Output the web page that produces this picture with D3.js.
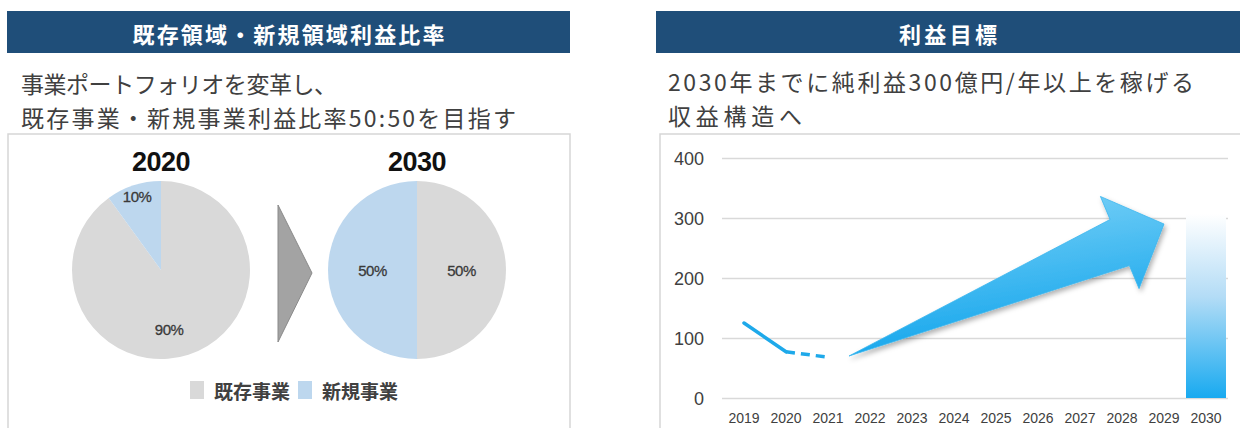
<!DOCTYPE html>
<html><head><meta charset="utf-8">
<script src="https://cdn.jsdelivr.net/npm/d3@7"></script>
<style>
html,body{margin:0;padding:0;background:#fff;}
svg{display:block;}
</style></head>
<body>
<svg id="chart" width="1240" height="428"></svg>
<script>
// ---------- data ----------
const leftTitle = "既存領域・新規領域利益比率";
const rightTitle = "利益目標";
const leftSubtitle = ["事業ポートフォリオを変革し、", "既存事業・新規事業利益比率50:50を目指す"];
const rightSubtitle = ["2030年までに純利益300億円/年以上を稼げる", "収益構造へ"];

const pieYears = ["2020", "2030"];
const pieCategories = ["既存事業", "新規事業"];
const pie2020 = [90, 10];
const pie2030 = [50, 50];

const years = ["2019","2020","2021","2022","2023","2024","2025","2026","2027","2028","2029","2030"];
const yTicks = [0, 100, 200, 300, 400];
const actualYears = ["2019", "2020"];
const actualProfit = [125, 77];
const forecastYears = ["2020", "2021"];
const forecastProfit = [77, 68];
const targetYear = "2030";
const targetProfit = 300;
const arrowFromYear = "2021", arrowFromValue = 70;   // tail sits half a step after 2021
const arrowToYear = "2029", arrowToValue = 290;

// ---------- setup ----------
const svg = d3.select("#chart");
const JP = "'Noto Sans CJK JP', 'Noto Sans', sans-serif";
const LAT = "'Liberation Sans', Arial, sans-serif";
const navy = "#1f4e79";
const txt = "#404040";
const grayC = "#d9d9d9", blueC = "#bdd7ee";
const skyC = "#1ea9ea";

const defs = svg.append("defs");
const gArrow = defs.append("linearGradient").attr("id","gArrow").attr("x1","0").attr("y1","0").attr("x2","0.3").attr("y2","1");
gArrow.append("stop").attr("offset","0%").attr("stop-color","#86d6f8");
gArrow.append("stop").attr("offset","100%").attr("stop-color","#12a5ec");
const gBar = defs.append("linearGradient").attr("id","gBar").attr("x1","0").attr("y1","0").attr("x2","0").attr("y2","1");
gBar.append("stop").attr("offset","0%").attr("stop-color","#ffffff");
gBar.append("stop").attr("offset","45%").attr("stop-color","#b3dcf6");
gBar.append("stop").attr("offset","100%").attr("stop-color","#18aaf0");
const sh = defs.append("filter").attr("id","shadow").attr("x","-20%").attr("y","-20%").attr("width","140%").attr("height","160%");
sh.append("feDropShadow").attr("dx",2).attr("dy",3).attr("stdDeviation",2.5).attr("flood-color","#000").attr("flood-opacity",0.3);

// ---------- headers ----------
function header(x0, x1, label, len) {
  svg.append("rect").attr("x", x0).attr("y", 11).attr("width", x1 - x0).attr("height", 42).attr("fill", navy);
  svg.append("text").attr("x", (x0 + x1) / 2).attr("y", 33).attr("text-anchor","middle")
    .attr("dominant-baseline","central").attr("fill","#fff").attr("font-family",JP)
    .attr("font-weight","bold").attr("font-size",22)
    .attr("textLength", len).attr("lengthAdjust","spacing").text(label);
}
header(7, 570, leftTitle, 312);
header(656, 1240, rightTitle, 98);

function subtitle(x, lines, ys, lens) {
  lines.forEach((l, i) => {
    svg.append("text").attr("x", x).attr("y", ys[i]).attr("dominant-baseline","central")
      .attr("fill", txt).attr("font-family", JP).attr("font-size", 23)
      .attr("textLength", lens[i]).attr("lengthAdjust","spacing").text(l);
  });
}
subtitle(21, leftSubtitle, [83, 117], [316, 495]);
subtitle(668, rightSubtitle, [81, 115], [526, 134]);

// ---------- panels ----------
svg.append("path").attr("d","M8,440 V134 H570 V440").attr("fill","none").attr("stroke","#d6d6d6").attr("stroke-width",1.5);
svg.append("path").attr("d","M660,440 V134 H1250").attr("fill","none").attr("stroke","#d6d6d6").attr("stroke-width",1.5);

// ---------- pies ----------
const R = 89;
const pieGen = d3.pie().sort(null).value(d => d);
const arc = d3.arc().innerRadius(0).outerRadius(R);
const colors = d3.scaleOrdinal().domain(pieCategories).range([grayC, blueC]);
const pieCenters = d3.scalePoint().domain(pieYears).range([161, 417]);
const labelR = { "2020": [0.68, 0.87], "2030": [0.5, 0.5] };
[pie2020, pie2030].forEach((data, pi) => {
  const yr = pieYears[pi];
  const g = svg.append("g").attr("transform", `translate(${pieCenters(yr)},270)`);
  const arcs = pieGen(data);
  g.selectAll("path").data(arcs).join("path").attr("d", arc).attr("fill", (d, i) => colors(pieCategories[i]));
  g.selectAll("text.pl").data(arcs).join("text").attr("class","pl")
    .attr("transform", (d, i) => {
      const r = R * labelR[yr][i];
      const a = (d.startAngle + d.endAngle) / 2 + (data[i] === 90 ? 0.18 : 0);
      return `translate(${Math.sin(a) * r},${-Math.cos(a) * r})`;
    })
    .attr("text-anchor","middle").attr("dominant-baseline","central")
    .attr("font-family", LAT).attr("font-size", 15).attr("fill", "#3a3a3a").attr("letter-spacing", -0.5)
    .attr("stroke", "#3a3a3a").attr("stroke-width", 0.3)
    .text(d => d.data + "%");
  svg.append("text").attr("x", pieCenters(yr)).attr("y", 162).attr("text-anchor","middle")
    .attr("dominant-baseline","central").attr("font-family", LAT).attr("font-weight","bold")
    .attr("font-size", 27).attr("fill","#111").attr("letter-spacing", -0.5).text(yr);
});
// transition triangle
svg.append("path").attr("d","M278,205 L312,273 L278,342 Z").attr("fill","#a3a3a3").attr("stroke","#8a8a8a").attr("stroke-width",1);

// legend
const legX = [190, 298];
pieCategories.forEach((c, i) => {
  svg.append("rect").attr("x", legX[i]).attr("y", 381).attr("width", 14).attr("height", 18).attr("fill", colors(c));
  svg.append("text").attr("x", legX[i] + 24).attr("y", 390).attr("dominant-baseline","central")
    .attr("font-family", JP).attr("font-weight","bold").attr("font-size", 19).attr("fill", txt)
    .attr("textLength", 76).attr("lengthAdjust","spacing").text(c);
});

// ---------- line / bar chart ----------
const x = d3.scaleBand().domain(years).range([723, 1227]).padding(0);
const xc = d => x(d) + x.bandwidth() / 2;
const y = d3.scaleLinear().domain([0, 400]).range([398, 158]);

const grid = svg.append("g").attr("transform","translate(722,0)")
  .call(d3.axisLeft(y).tickValues(yTicks).tickSize(-506).tickFormat(""));
grid.select(".domain").remove();
grid.selectAll("line").attr("stroke","#d9d9d9").attr("stroke-width",1.5);

const yAxis = svg.append("g").attr("transform","translate(722,0)")
  .call(d3.axisLeft(y).tickValues(yTicks).tickSize(0).tickPadding(18));
yAxis.select(".domain").remove();
yAxis.selectAll("text").attr("font-family", LAT).attr("font-size", 18).attr("fill", txt).attr("dy","0.35em");

const xAxis = svg.append("g").attr("transform","translate(0,398)")
  .call(d3.axisBottom(x).tickSize(0));
xAxis.select(".domain").remove();
xAxis.selectAll("text").attr("font-family", LAT).attr("font-size", 14).attr("fill", txt)
  .attr("y", 20).attr("dy","0.35em");

// 2030 target bar
svg.append("rect").attr("x", x(targetYear) + 1).attr("y", y(targetProfit) - 4)
  .attr("width", x.bandwidth() - 2).attr("height", y(0) - y(targetProfit) + 4).attr("fill","url(#gBar)");

// actual & forecast lines
const lineGen = d3.line().x(d => xc(d[0])).y(d => y(d[1]));
svg.append("path").datum(d3.zip(actualYears, actualProfit)).attr("d", lineGen)
  .attr("fill","none").attr("stroke", skyC).attr("stroke-width", 3.5).attr("stroke-linecap","round");
svg.append("path").datum(d3.zip(forecastYears, forecastProfit)).attr("d", lineGen)
  .attr("fill","none").attr("stroke", skyC).attr("stroke-width", 3.5).attr("stroke-dasharray","9,6");

// growth arrow
const T = [xc(arrowFromYear) + x.step() / 2, y(arrowFromValue)];
const P = [xc(arrowToYear), y(arrowToValue)];
const dx = P[0] - T[0], dy = P[1] - T[1], L = Math.hypot(dx, dy);
const u = [dx / L, dy / L], n = [-u[1], u[0]];
const headLen = 48, headHalf = 50, shaftHalf = 25;
const pt = (along, off) => [P[0] + u[0] * along + n[0] * off, P[1] + u[1] * along + n[1] * off];
const arrowPts = [T, pt(-headLen, -shaftHalf), pt(-headLen, -headHalf), P, pt(-headLen, headHalf), pt(-headLen, shaftHalf)];
svg.append("path").attr("d", "M" + arrowPts.map(p => p.join(",")).join("L") + "Z")
  .attr("fill","url(#gArrow)").attr("stroke","#3bb6ef").attr("stroke-width",0.8).attr("filter","url(#shadow)");
</script>
</body></html>
